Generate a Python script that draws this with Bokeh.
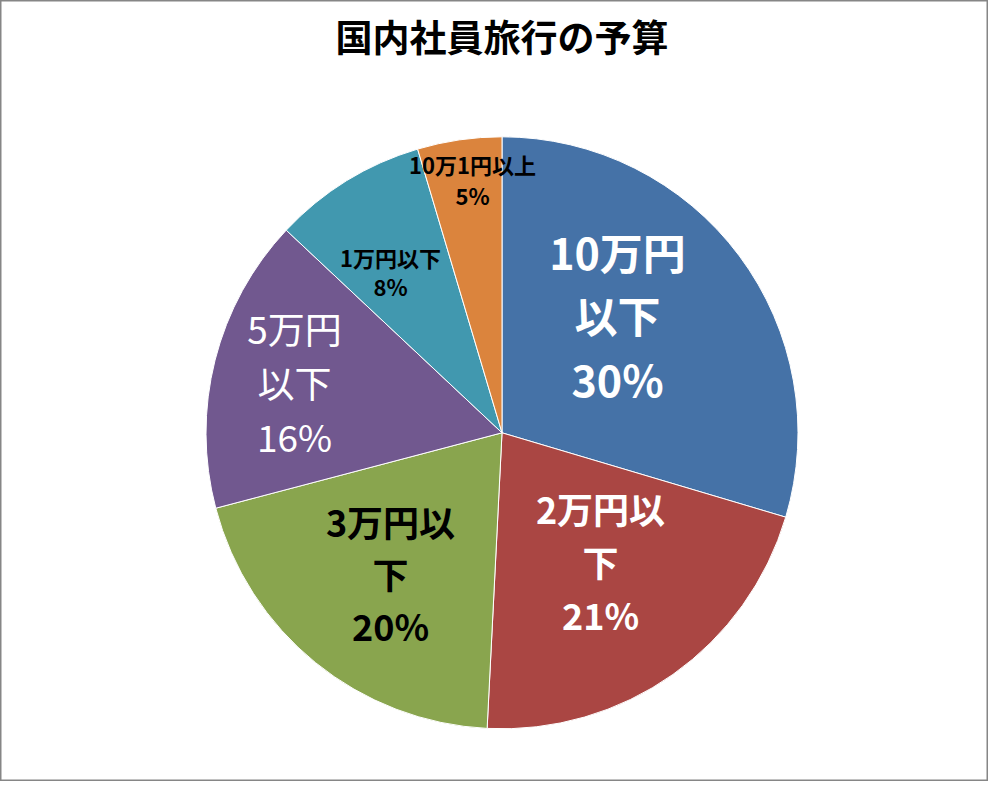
import math
from bokeh.plotting import figure
from bokeh.models import ColumnDataSource, Range1d
from bokeh.core.properties import value
from bokeh.embed import file_html
from bokeh.resources import INLINE

# ---- data ----
title_text = "国内社員旅行の予算"
categories = ["10万円以下", "2万円以下", "3万円以下", "5万円以下", "1万円以下", "10万1円以上"]
values = [29.6, 21.2, 20.1, 16.1, 8.4, 4.6]
label_lines = [["10万円", "以下"], ["2万円以", "下"], ["3万円以", "下"],
               ["5万円", "以下"], ["1万円以下"], ["10万1円以上"]]

# ---- style ----
colors = ["#4572A7", "#AA4643", "#89A54E", "#71588F", "#4198AF", "#DB843D"]
label_colors = ["white", "white", "black", "white", "black", "black"]
label_sizes = [43, 36, 36, 37, 22, 22]
label_styles = ["bold", "bold", "bold", "normal", "bold", "bold"]
# label block centre offsets from pie centre (px, screen y down) and line gaps
label_offsets = [(115.5, -112.3), (98.5, 133.7), (-111.5, 145.7),
                 (-207.5, -45.3), (-111.5, -157.8), (-29.5, -249.8)]
label_gaps = [63.5, 53, 52, 54, 29, 31]

W, H = 988, 781
FONT = "Noto Sans CJK JP"
SHIFT = 0.15  # glyph centre correction (fraction of font size)
cx, cy, R = 501.5, H - 432.3, 296

p = figure(width=W, height=H, output_backend="svg", toolbar_location=None,
           x_range=Range1d(0, W), y_range=Range1d(0, H), min_border=0)
p.axis.visible = False
p.grid.visible = False
p.background_fill_color = "white"
p.border_fill_color = "white"
p.outline_line_color = "#868686"
p.outline_line_width = 2

total = sum(values)
starts, ends = [], []
cum = 0.0
for v in values:
    a0 = cum / total
    cum += v
    a1 = cum / total
    starts.append(math.pi / 2 - 2 * math.pi * a1)
    ends.append(math.pi / 2 - 2 * math.pi * a0)

src = ColumnDataSource(dict(x=[cx] * len(values), y=[cy] * len(values),
                            start=starts, end=ends, color=colors, cat=categories))
p.wedge(x="x", y="y", radius=R, start_angle="start", end_angle="end",
        fill_color="color", line_color="white", line_width=1, source=src)

tx, ty, tt, tc, ts, tst = [], [], [], [], [], []
for i, v in enumerate(values):
    lines = label_lines[i] + [f"{round(v / total * 100)}%"]
    n = len(lines)
    dx, dy = label_offsets[i]
    for j, line in enumerate(lines):
        off = (j - (n - 1) / 2) * label_gaps[i]
        tx.append(cx + dx)
        ty.append(cy - (dy + off) + SHIFT * label_sizes[i])
        tt.append(line)
        tc.append(label_colors[i])
        ts.append(f"{label_sizes[i]}px")
        tst.append(label_styles[i])

tsrc = ColumnDataSource(dict(x=tx, y=ty, text=tt, color=tc, size=ts, style=tst))
p.text(x="x", y="y", text="text", text_color="color", text_font_size="size",
       text_font_style="style", text_font=value(FONT), text_align="center",
       text_baseline="middle", source=tsrc)

p.text(x=[cx], y=[H - 41 + SHIFT * 37], text=[title_text], text_font=value(FONT),
       text_font_size="37px", text_font_style="bold", text_color="black",
       text_align="center", text_baseline="middle")

open("out.html", "w").write(file_html(p, INLINE))
